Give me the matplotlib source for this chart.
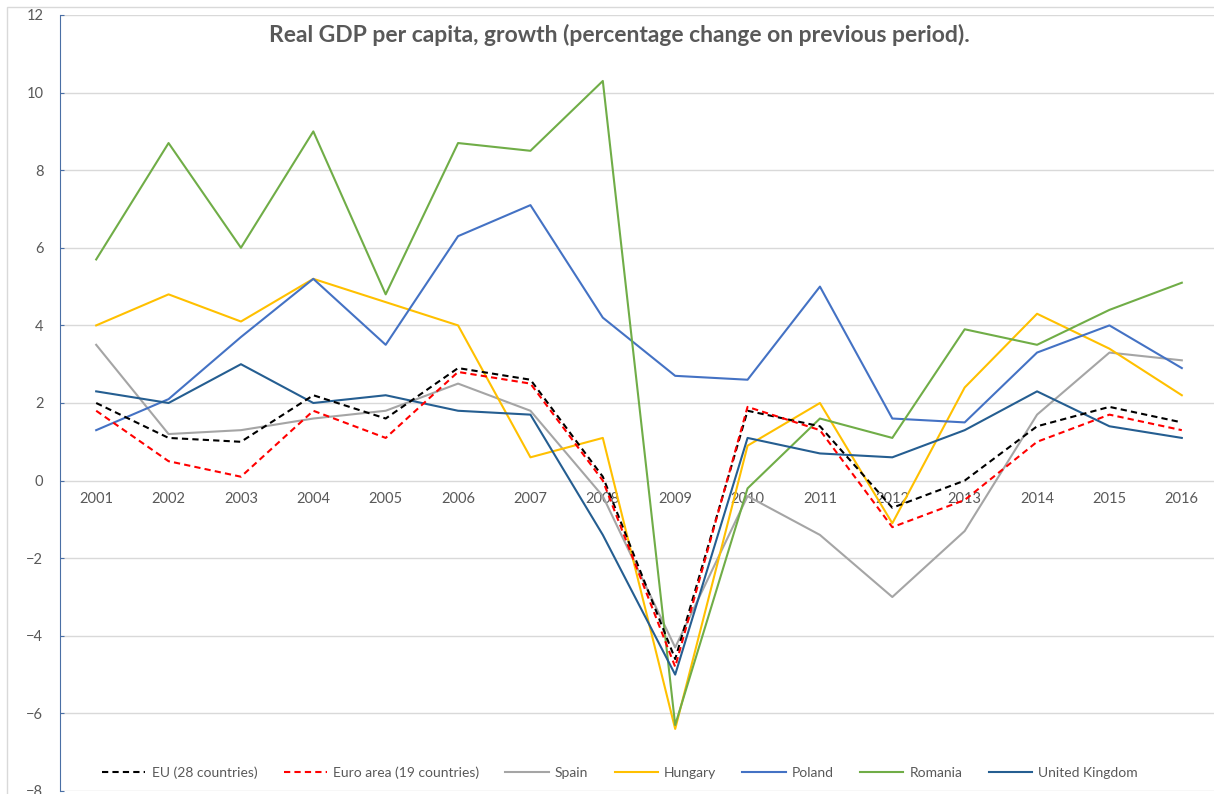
import matplotlib
matplotlib.use('Agg')
import matplotlib.pyplot as plt
from matplotlib.patches import Rectangle

plt.rcParams['font.family'] = ['Lato', 'DejaVu Sans']

# Data
years = ['2001', '2002', '2003', '2004', '2005', '2006', '2007', '2008',
         '2009', '2010', '2011', '2012', '2013', '2014', '2015', '2016']
eu28 = [2.0, 1.1, 1.0, 2.2, 1.6, 2.9, 2.6, 0.1, -4.6, 1.8, 1.4, -0.7, 0.0, 1.4, 1.9, 1.5]
euro19 = [1.8, 0.5, 0.1, 1.8, 1.1, 2.8, 2.5, 0.0, -4.8, 1.9, 1.3, -1.2, -0.5, 1.0, 1.7, 1.3]
spain = [3.5, 1.2, 1.3, 1.6, 1.8, 2.5, 1.8, -0.4, -4.3, -0.4, -1.4, -3.0, -1.3, 1.7, 3.3, 3.1]
hungary = [4.0, 4.8, 4.1, 5.2, 4.6, 4.0, 0.6, 1.1, -6.4, 0.9, 2.0, -1.1, 2.4, 4.3, 3.4, 2.2]
poland = [1.3, 2.1, 3.7, 5.2, 3.5, 6.3, 7.1, 4.2, 2.7, 2.6, 5.0, 1.6, 1.5, 3.3, 4.0, 2.9]
romania = [5.7, 8.7, 6.0, 9.0, 4.8, 8.7, 8.5, 10.3, -6.3, -0.2, 1.6, 1.1, 3.9, 3.5, 4.4, 5.1]
uk = [2.3, 2.0, 3.0, 2.0, 2.2, 1.8, 1.7, -1.4, -5.0, 1.1, 0.7, 0.6, 1.3, 2.3, 1.4, 1.1]

W, H = 1214, 794
fig = plt.figure(figsize=(W / 100, H / 100), dpi=100)

# chart area border
fig.patches.append(Rectangle((7 / W, -0.1), 1.1, (H - 7) / H + 0.1, transform=fig.transFigure,
                             fill=False, edgecolor='#D9D9D9', linewidth=1))

ax = fig.add_axes([60 / W, 3 / H, 1158 / W, 776 / H])
x = list(range(len(years)))

lw = 1.5
ax.plot(x, eu28, color='black', lw=lw, dashes=(3, 2), label='EU (28 countries)', zorder=3)
ax.plot(x, euro19, color='#FF0000', lw=lw, dashes=(3, 2), label='Euro area (19 countries)', zorder=3)
ax.plot(x, spain, color='#A5A5A5', lw=lw, label='Spain')
ax.plot(x, hungary, color='#FFC000', lw=lw, label='Hungary')
ax.plot(x, poland, color='#4472C4', lw=lw, label='Poland')
ax.plot(x, romania, color='#70AD47', lw=lw, label='Romania')
ax.plot(x, uk, color='#255E91', lw=lw, label='United Kingdom')

ax.set_xlim(-0.5, len(years) - 0.5)
ax.set_ylim(-8, 12)
ax.set_yticks(range(-8, 13, 2))
ax.set_xticks(x)
ax.set_xticklabels(years)
ax.grid(axis='y', color='#D9D9D9', linewidth=1)
ax.set_axisbelow(True)

for s in ['top', 'right', 'bottom']:
    ax.spines[s].set_visible(False)
ax.spines['bottom'].set_position(('data', 0))
ax.spines['left'].set_color('#4A6FA5')
ax.tick_params(axis='x', length=0, pad=8, labelsize=10.5, labelcolor='#595959')
ax.tick_params(axis='y', direction='in', length=3, color='#4A6FA5', pad=12,
               labelsize=10.5, labelcolor='#595959')

ax.set_title('Real GDP per capita, growth (percentage change on previous period).',
             fontsize=16.5, fontweight='bold', color='#595959', y=0.955, x=0.483)

fig.legend(loc='center', bbox_to_anchor=(620 / W, 21 / H), ncol=7, frameon=False,
           fontsize=10, handlelength=3.1, handletextpad=0.45, columnspacing=1.9,
           labelcolor='#595959')

fig.savefig('out.png', dpi=100)
